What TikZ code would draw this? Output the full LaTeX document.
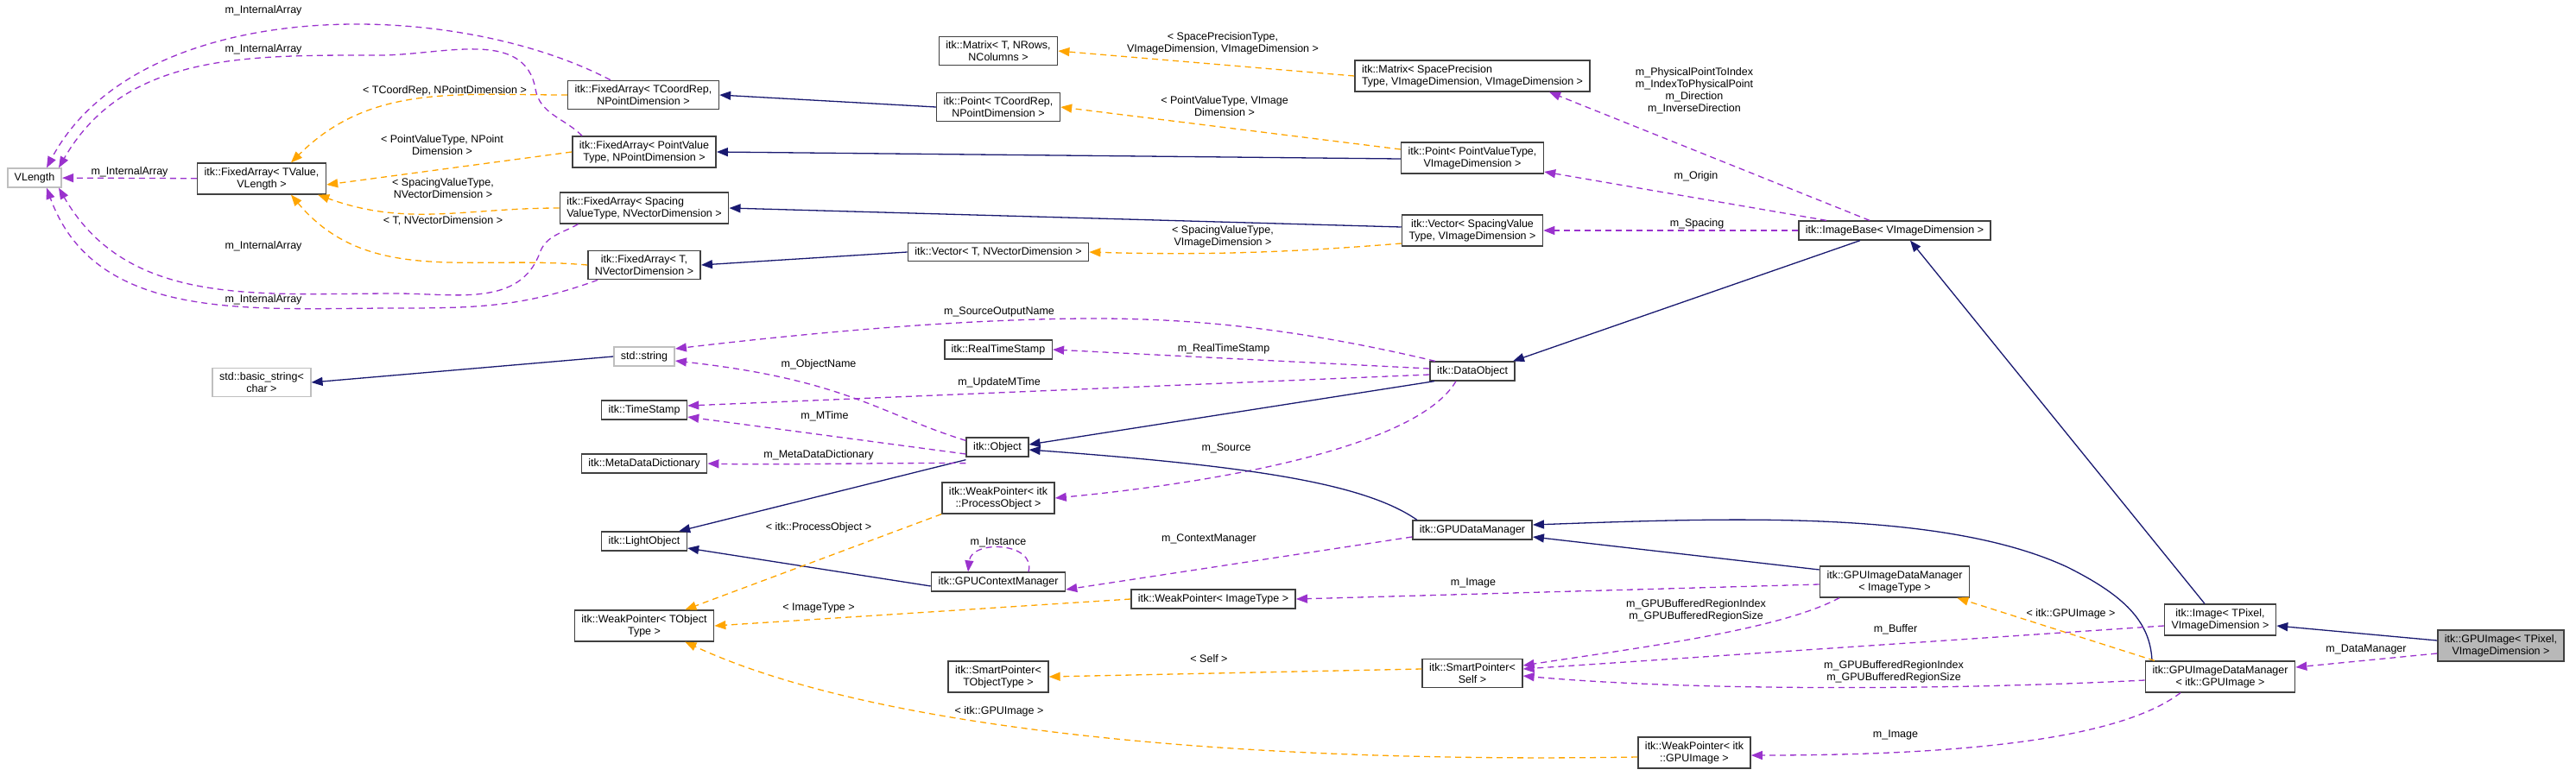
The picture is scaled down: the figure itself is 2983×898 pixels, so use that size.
\documentclass[tikz,border=0pt]{standalone}
\usepackage{fontspec}
\setmainfont{Liberation Sans}
\usetikzlibrary{arrows.meta}
\definecolor{inhblue}{HTML}{191970}
\definecolor{usepurple}{HTML}{9A32CD}
\definecolor{tplorange}{HTML}{FFA500}
\tikzset{
  cls/.style={draw=black!75, line width=1.6pt, fill=white, align=center,
    inner xsep=8pt, inner ysep=5pt, font=\fontsize{12.5}{14}\selectfont},
  ext/.style={cls, draw=black!25},
  cur/.style={cls, fill=black!28},
  lbl/.style={align=center, inner sep=1pt, font=\fontsize{12.5}{14}\selectfont},
  inh/.style={-{Triangle[length=13pt,width=10pt]}, draw=inhblue, line width=1.3pt},
  use/.style={-{Triangle[length=13pt,width=10pt]}, draw=usepurple, line width=1.3pt, dash pattern=on 7pt off 5pt},
  tpl/.style={-{Triangle[length=13pt,width=10pt]}, draw=tplorange, line width=1.3pt, dash pattern=on 7pt off 5pt}
}
\begin{document}
\begin{tikzpicture}[x=1pt,y=-1pt]
	\useasboundingbox (0,0) rectangle (2983,898);
	
	%fixed arrays
	\node[ext] (vlen) at (40,206){VLength};
	\node[cls] (faVal) at (303,207){itk::FixedArray< TValue,\\VLength >};
	\node[cls] (faCoord) at (745,110){itk::FixedArray< TCoordRep,\\NPointDimension >};
	\node[cls] (faPoint) at (746,176){itk::FixedArray< PointValue\\Type, NPointDimension >};
	\node[cls, align=left] (faSpac) at (746,241){itk::FixedArray< Spacing\\ValueType, NVectorDimension >};
	\node[cls] (faVec) at (746,307){itk::FixedArray< T,\\NVectorDimension >};
	
	%strings and stamps
	\node[ext] (str) at (746,413){std::string};
	\node[ext] (bstr) at (303,443){std::basic\_string<\\char >};
	\node[cls] (ts) at (746,475){itk::TimeStamp};
	\node[cls] (mdd) at (746,537){itk::MetaDataDictionary};
	\node[cls] (light) at (746,627){itk::LightObject};
	\node[cls] (wpT) at (746,725){itk::WeakPointer< TObject\\Type >};
	
	%middle column
	\node[cls] (matT) at (1156,59){itk::Matrix< T, NRows,\\NColumns >};
	\node[cls] (ptC) at (1156,124){itk::Point< TCoordRep,\\NPointDimension >};
	\node[cls] (vecT) at (1156,292){itk::Vector< T, NVectorDimension >};
	\node[cls] (rts) at (1156,405){itk::RealTimeStamp};
	\node[cls] (obj) at (1155,518){itk::Object};
	\node[cls] (wpProc) at (1156,577){itk::WeakPointer< itk\\::ProcessObject >};
	\node[cls] (gcm) at (1156,674){itk::GPUContextManager};
	\node[cls] (spT) at (1156,784){itk::SmartPointer<\\TObjectType >};
	\node[cls] (wpImgT) at (1405,694){itk::WeakPointer< ImageType >};
	
	%image side
	\node[cls, align=left] (matS) at (1705,88){itk::Matrix< SpacePrecision\\Type, VImageDimension, VImageDimension >};
	\node[cls] (ptV) at (1705,183){itk::Point< PointValueType,\\VImageDimension >};
	\node[cls] (vecS) at (1705,267){itk::Vector< SpacingValue\\Type, VImageDimension >};
	\node[cls] (dobj) at (1705,430){itk::DataObject};
	\node[cls] (gdm) at (1705,614){itk::GPUDataManager};
	\node[cls] (spS) at (1705,780){itk::SmartPointer<\\Self >};
	\node[cls] (wpG) at (1962,872){itk::WeakPointer< itk\\::GPUImage >};
	\node[cls] (ibase) at (2194,267){itk::ImageBase< VImageDimension >};
	\node[cls] (gidmI) at (2194,674){itk::GPUImageDataManager\\< ImageType >};
	\node[cls] (img) at (2571,718){itk::Image< TPixel,\\VImageDimension >};
	\node[cls] (gidmG) at (2571,784){itk::GPUImageDataManager\\< itk::GPUImage >};
	\node[cur] (gimg) at (2896,748){itk::GPUImage< TPixel,\\VImageDimension >};
	
	%internal arrays
	\draw[use] ([xshift=50pt]faCoord.north west) .. controls (520,-5) and (160,-5) .. ([xshift=14pt]vlen.north);
	\draw[use] ([xshift=12pt]faPoint.north west) to[out=135,in=-80] (620,103) to[out=100,in=0] (440,64) to[out=180,in=60] ([xshift=28pt]vlen.north);
	\draw[use] (faVal) -- (vlen);
	\draw[use] ([xshift=22pt]faSpac.south west) to[out=-150,in=70] (625,293) to[out=-110,in=0] (459,340) to[out=180,in=-60] ([xshift=28pt]vlen.south);
	\draw[use] ([xshift=12pt]faVec.south west) to[out=-160,in=0] (459,357) to[out=180,in=-70] ([xshift=14pt]vlen.south);
	\node[lbl] (l1) at (305,12){m\_InternalArray};
	\node[lbl] (l2) at (305,57){m\_InternalArray};
	\node[lbl] (l3) at (150,199){m\_InternalArray};
	\node[lbl] (l4) at (305,285){m\_InternalArray};
	\node[lbl] (l5) at (305,347){m\_InternalArray};
	
	\draw[tpl] (faCoord.west) to[out=180,in=45] ([xshift=34pt]faVal.north);
	\draw[tpl] (faPoint.west) -- ([yshift=-7pt]faVal.east);
	\draw[tpl] (faSpac.west) to[out=180,in=-20] ([xshift=-10pt]faVal.south east);
	\draw[tpl] (faVec.west) to[out=175,in=-50] ([xshift=34pt]faVal.south);
	\node[lbl] (l6) at (515,105){< TCoordRep, NPointDimension >};
	\node[lbl] (l7) at (512,168){< PointValueType, NPoint\\Dimension >};
	\node[lbl] (l8) at (513,218){< SpacingValueType,\\NVectorDimension >};
	\node[lbl] (l9) at (513,256){< T, NVectorDimension >};
	
	\draw[inh] (ptC.west) -- (faCoord.east);
	\draw[inh] ([yshift=-1pt]ptV.west) -- (faPoint.east);
	\draw[inh] ([yshift=4pt]vecS.west) -- (faSpac.east);
	\draw[inh] (vecT.west) -- (faVec.east);
	\draw[inh] (str.west) -- (bstr.east);
	
	\draw[tpl] (matS.west) -- (matT.east);
	\draw[tpl] ([yshift=10pt]ptV.west) -- (ptC.east);
	\draw[tpl] ([yshift=-15pt]vecS.west) .. controls (1500,292) and (1400,296) .. (vecT.east);
	\node[lbl] (l10) at (1416,50){< SpacePrecisionType,\\VImageDimension, VImageDimension >};
	\node[lbl] (l11) at (1418,123){< PointValueType, VImage\\Dimension >};
	\node[lbl] (l12) at (1416,274){< SpacingValueType,\\VImageDimension >};
	
	%image base
	\draw[use] ([xshift=-29pt]ibase.north) -- ([xshift=89pt]matS.south);
	\draw[use] ([xshift=-79pt]ibase.north) -- ([yshift=-16pt]ptV.east);
	\draw[use] (ibase.west) -- (vecS.east);
	\node[lbl] (l13) at (1962,105){m\_PhysicalPointToIndex\\m\_IndexToPhysicalPoint\\m\_Direction\\m\_InverseDirection};
	\node[lbl] (l14) at (1964,204){m\_Origin};
	\node[lbl] (l15) at (1965,259){m\_Spacing};
	
	\draw[inh] ([xshift=-40pt]ibase.south) -- ([xshift=47pt]dobj.north);
	\draw[inh] ([xshift=-18pt]img.north) -- ([xshift=18pt]ibase.south);
	\draw[inh] ([yshift=6pt]gimg.west) -- ([yshift=-7pt]img.east);
	
	%data object
	\draw[use] ([xshift=-43pt]dobj.north) .. controls (1500,380) and (1380,369) .. (1268,369) .. controls (1100,369) and (900,390) .. ([yshift=9pt]str.east);
	\draw[use] ([yshift=3pt]dobj.west) -- (rts.east);
	\draw[use] ([yshift=-4pt]dobj.west) -- ([yshift=5pt]ts.east);
	\draw[use] ([xshift=-19pt]dobj.south) .. controls (1640,520) and (1400,560) .. (wpProc.east);
	\node[lbl] (l16) at (1157,361){m\_SourceOutputName};
	\node[lbl] (l17) at (1417,404){m\_RealTimeStamp};
	\node[lbl] (l18) at (1157,443){m\_UpdateMTime};
	\node[lbl] (l19) at (1420,519){m\_Source};
	
	\draw[inh] ([xshift=-44pt]dobj.south) -- ([yshift=3pt]obj.east);
	\draw[inh] ([yshift=-3pt]obj.south west) -- ([xshift=-10pt]light.north east);
	\draw[inh] ([xshift=-64pt]gdm.north) .. controls (1580,560) and (1450,540) .. ([yshift=-3pt]obj.east);
	\draw[inh] ([yshift=-5pt]gcm.west) -- ([yshift=-8pt]light.east);
	
	%object members
	\draw[use] ([yshift=-4pt]obj.north west) .. controls (1020,480) and (980,440) .. ([yshift=-5pt]str.east);
	\draw[use] ([yshift=-8pt]obj.west) -- ([yshift=-8pt]ts.east);
	\draw[use] ([yshift=-7pt]obj.south west) .. controls (1000,536) and (900,539) .. (mdd.east);
	\node[lbl] (l20) at (948,422){m\_ObjectName};
	\node[lbl] (l21) at (955,482){m\_MTime};
	\node[lbl] (l22) at (948,527){m\_MetaDataDictionary};
	
	\draw[use] ([xshift=35pt]gcm.north) .. controls (1200,628) and (1125,625) .. ([xshift=-35pt]gcm.north);
	\draw[use] ([yshift=-8pt]gdm.west) -- ([yshift=-9pt]gcm.east);
	\node[lbl] (l23) at (1156,628){m\_Instance};
	\node[lbl] (l24) at (1400,624){m\_ContextManager};
	
	%weak and smart pointers
	\draw[tpl] (wpProc.south west) -- ([xshift=-34pt]wpT.north east);
	\draw[tpl] (wpImgT.west) -- (wpT.east);
	\draw[tpl] ([yshift=-5pt]wpG.west) .. controls (1400,885) and (1000,840) .. ([xshift=-34pt]wpT.south east);
	\draw[tpl] ([yshift=5pt]spS.west) -- (spT.east);
	\node[lbl] (l25) at (948,611){< itk::ProcessObject >};
	\node[lbl] (l26) at (948,704){< ImageType >};
	\node[lbl] (l27) at (1157,824){< itk::GPUImage >};
	\node[lbl] (l28) at (1400,763){< Self >};
	
	%gpu data managers
	\draw[inh] ([yshift=14pt]gidmI.west) -- ([yshift=-8pt]gdm.east);
	\draw[inh] ([xshift=-79pt]gidmG.north) .. controls (2490,720) and (2460,690) .. (2394,657) .. controls (2250,590) and (2000,600) .. ([yshift=6pt]gdm.east);
	\draw[use] ([yshift=-3pt]gidmI.west) -- (wpImgT.east);
	\draw[use] ([xshift=-64pt]gidmI.south) .. controls (2060,730) and (1900,750) .. ([yshift=9pt]spS.east);
	\draw[use] ([yshift=-7pt]img.west) -- ([yshift=5pt]spS.east);
	\draw[use] ([yshift=-4pt]gidmG.west) .. controls (2250,800) and (1950,800) .. ([yshift=-3pt]spS.east);
	\draw[use] ([xshift=-46pt]gidmG.south) .. controls (2450,860) and (2250,875) .. ([yshift=-3pt]wpG.east);
	\draw[use] ([yshift=-9pt]gimg.west) -- ([yshift=11pt]gidmG.east);
	\draw[tpl] ([xshift=-76pt]gidmG.north) -- ([xshift=-15pt]gidmI.south east);
	\node[lbl] (l29) at (1706,675){m\_Image};
	\node[lbl] (l30) at (1964,707){m\_GPUBufferedRegionIndex\\m\_GPUBufferedRegionSize};
	\node[lbl] (l31) at (2195,729){m\_Buffer};
	\node[lbl] (l32) at (2193,778){m\_GPUBufferedRegionIndex\\m\_GPUBufferedRegionSize};
	\node[lbl] (l33) at (2195,851){m\_Image};
	\node[lbl] (l34) at (2740,752){m\_DataManager};
	\node[lbl] (l35) at (2398,711){< itk::GPUImage >};
	
	\end{tikzpicture}
\end{document}
